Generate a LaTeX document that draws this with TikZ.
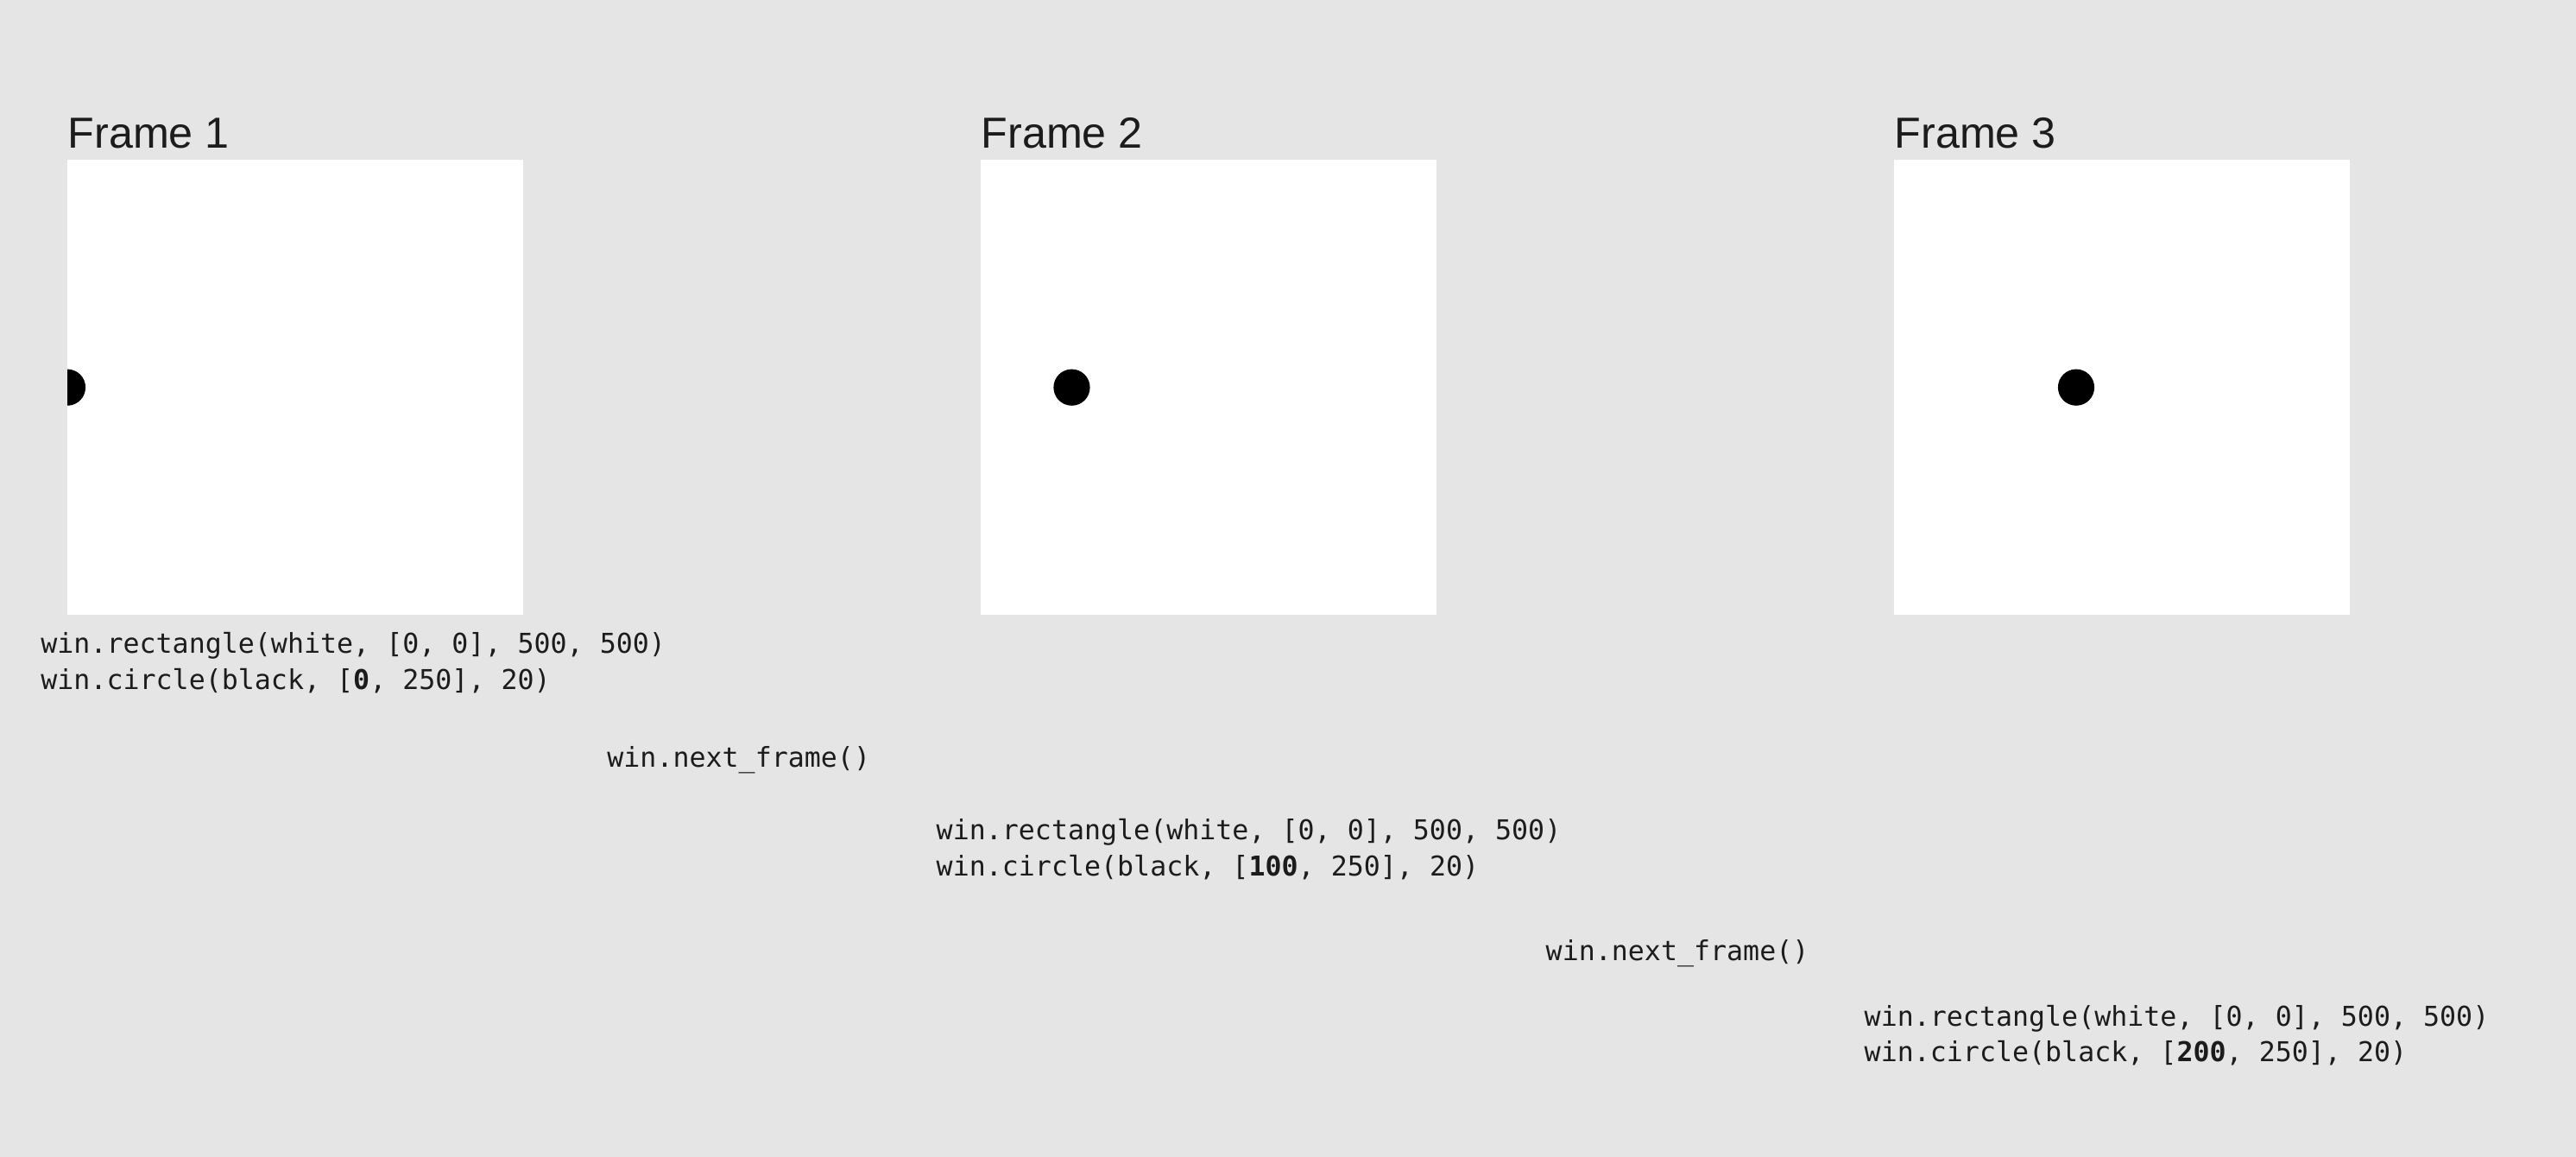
\documentclass[tikz,border=0pt]{standalone}
\usepackage{fontspec}
\setmainfont{Liberation Sans}
\setmonofont{DejaVu Sans Mono}
\definecolor{paper}{HTML}{E5E5E5}
\definecolor{ink}{HTML}{1C1C1C}
\begin{document}
\begin{tikzpicture}[
	frametitle/.style={anchor=base west, inner sep=0pt, text=ink, font=\fontsize{14.3}{16}\selectfont},
	codeline/.style={anchor=base west, inner sep=0pt, text=ink, font=\fontsize{9}{11}\selectfont\ttfamily},
	canvas/.style={fill=white},
	ball/.style={fill=black}
]
	% background and page size
	\fill[paper] (0,0) rectangle (29.84,13.40);
	\useasboundingbox (0,0) rectangle (29.84,13.40);

	% frame 1
	\node[frametitle] (title1) at (0.78,11.683){Frame 1};
	\fill[canvas] (0.78,6.275) rectangle (6.055,11.55);
	\begin{scope}
		\clip (0.78,6.275) rectangle (6.055,11.55);
		\fill[ball] (0.78,8.913) circle (0.211);
	\end{scope}

	% frame 2
	\node[frametitle] (title2) at (11.36,11.683){Frame 2};
	\fill[canvas] (11.36,6.275) rectangle (16.635,11.55);
		\fill[ball] (12.415,8.913) circle (0.211);

	% frame 3
	\node[frametitle] (title3) at (21.94,11.683){Frame 3};
	\fill[canvas] (21.94,6.275) rectangle (27.215,11.55);
		\fill[ball] (24.05,8.913) circle (0.211);

	% code
	\node[codeline] (rect1) at (0.467,5.83){win.rectangle(white, [0, 0], 500, 500)};
	\node[codeline] (circ1) at (0.467,5.41){win.circle(black, [\textbf{0}, 250], 20)};
	\node[codeline] (next1) at (7.027,4.51){win.next\_frame()};
	\node[codeline] (rect2) at (10.84,3.67){win.rectangle(white, [0, 0], 500, 500)};
	\node[codeline] (circ2) at (10.84,3.25){win.circle(black, [\textbf{100}, 250], 20)};
	\node[codeline] (next2) at (17.90,2.27){win.next\_frame()};
	\node[codeline] (rect3) at (21.59,1.51){win.rectangle(white, [0, 0], 500, 500)};
	\node[codeline] (circ3) at (21.59,1.10){win.circle(black, [\textbf{200}, 250], 20)};
\end{tikzpicture}
\end{document}
